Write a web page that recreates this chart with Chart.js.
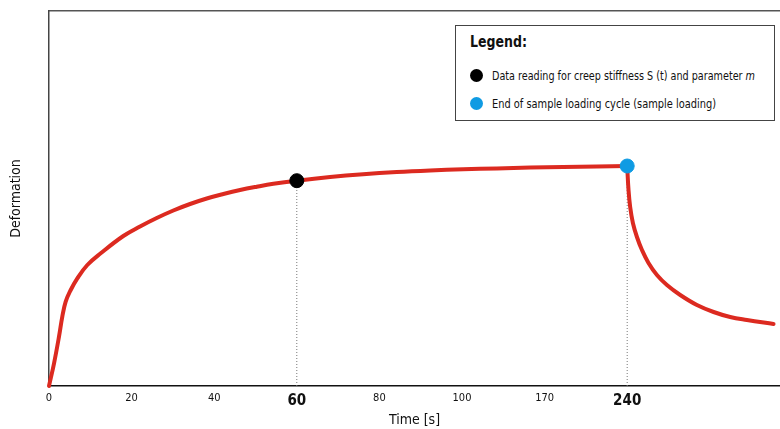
<!DOCTYPE html>
<html>
<head>
<meta charset="utf-8">
<script src="https://cdn.jsdelivr.net/npm/chart.js@4.4.1/dist/chart.umd.min.js"></script>
<style>
  html, body { margin: 0; padding: 0; background: #fff; }
  #wrap { position: relative; width: 780px; height: 429px; }
  #legendBox {
    position: absolute; left: 455px; top: 25px; width: 318px; height: 94px;
    border: 1px solid #444; background: #fff;
    font-family: 'DejaVu Sans Condensed', 'Liberation Sans', sans-serif;
    color: #111;
  }
  #legendBox .title { position: absolute; left: 14px; top: 7px; font-size: 15px; font-weight: bold; white-space: nowrap; transform-origin: left center; }
  #legendBox .item { position: absolute; left: 14px; font-size: 12px; white-space: nowrap; }
  #legendBox .dot { display: inline-block; width: 13px; height: 13px; border-radius: 50%; vertical-align: middle; margin-right: 9px; }
  #legendBox .txt { display: inline-block; vertical-align: middle; transform-origin: left center; }
</style>
</head>
<body>
<div id="wrap">
  <canvas id="c" width="780" height="429"></canvas>
  <div id="legendBox">
    <div class="title" id="lgTitle">Legend:</div>
    <div class="item" style="top:42px"><span class="dot" style="background:#000"></span><span class="txt" id="lg1">Data reading for creep stiffness S (t) and parameter <i>m</i></span></div>
    <div class="item" style="top:70px"><span class="dot" style="background:#0f9be3"></span><span class="txt" id="lg2">End of sample loading cycle (sample loading)</span></div>
  </div>
</div>
<script>
// Tick labels (evenly spaced positions 0..7 on the axis)
const tickLabels = ['0', '20', '40', '60', '80', '100', '170', '240'];
const boldTicks = ['60', '240'];

// Loading phase: position along axis (tick index units) and deformation (arbitrary units)
const loadX = [0, 0.061, 0.121, 0.161, 0.202, 0.263, 0.343, 0.464, 0.626, 0.90, 1.102, 1.304, 1.505, 1.708, 1.910,
               2.111, 2.313, 2.515, 2.716, 3.00, 3.403, 3.803, 4.211, 4.614, 5.014, 5.422, 5.825, 6.225, 6.633, 7.00];
const loadY = [0, 22.7, 49.3, 69.3, 84.3, 96, 107.7, 121, 132.7, 150, 159.5, 168, 175.5, 182, 187.5,
               192, 196, 199.3, 202.2, 205.3, 208.9, 211.7, 213.9, 215.5, 216.7, 217.6, 218.4, 219, 219.5, 220];

// Recovery phase after unloading
const recoverX = [7.00, 7.016, 7.036, 7.069, 7.118, 7.179, 7.258, 7.360, 7.481, 7.642, 7.844, 8.046, 8.247, 8.450, 8.772];
const recoverY = [220, 196, 179, 163, 149, 136, 123, 111, 101, 91, 81, 74, 69, 66, 62];

// Markers
const readingPoint = { x: 3, y: 205.3 };   // 60 s
const endLoadPoint = { x: 7, y: 220 };     // 240 s

const xMax = 8.85;
const yMax = 375;

const FONT = "'DejaVu Sans Condensed', 'Liberation Sans', sans-serif";
const RED = '#dc2a20';

const toPts = (xs, ys) => xs.map((x, i) => ({ x, y: ys[i] }));

new Chart(document.getElementById('c'), {
  type: 'line',
  data: {
    datasets: [
      {
        data: [readingPoint], type: 'scatter', pointRadius: 7, pointHoverRadius: 7,
        backgroundColor: '#000', borderColor: '#000', order: 0
      },
      {
        data: [endLoadPoint], type: 'scatter', pointRadius: 7, pointHoverRadius: 7,
        backgroundColor: '#0f9be3', borderColor: '#0f9be3', order: 0
      },
      {
        data: toPts(loadX, loadY), borderColor: RED, borderWidth: 4, pointRadius: 0,
        tension: 0.4, fill: false, order: 1, clip: false, borderCapStyle: 'round'
      },
      {
        data: toPts(recoverX, recoverY), borderColor: RED, borderWidth: 4, pointRadius: 0,
        tension: 0.4, fill: false, order: 1, clip: false, borderCapStyle: 'round'
      },
      {
        data: [{ x: readingPoint.x, y: 0 }, { x: readingPoint.x, y: readingPoint.y }],
        borderColor: '#777', borderWidth: 1, borderDash: [1, 2], pointRadius: 0, order: 2
      },
      {
        data: [{ x: endLoadPoint.x, y: 0 }, { x: endLoadPoint.x, y: endLoadPoint.y }],
        borderColor: '#777', borderWidth: 1, borderDash: [1, 2], pointRadius: 0, order: 2
      }
    ]
  },
  options: {
    responsive: false,
    animation: false,
    layout: { autoPadding: false, padding: { top: 11, right: 0, left: 0, bottom: 0 } },
    plugins: { legend: { display: false }, tooltip: { enabled: false } },
    scales: {
      x: {
        type: 'linear', min: 0, max: xMax, position: 'bottom',
        grid: { display: false, drawTicks: false },
        border: { display: true, color: '#111', width: 1.5 },
        afterBuildTicks: (s) => { s.ticks = tickLabels.map((_, i) => ({ value: i })); },
        afterFit: (s) => { s.height = 43; s.paddingLeft = 0; s.paddingRight = 0; },
        ticks: {
          autoSkip: false, maxRotation: 0, padding: 6, color: '#111',
          callback: (v) => tickLabels[v],
          font: (ctx) => {
            const lbl = ctx.tick ? tickLabels[ctx.tick.value] : '';
            return boldTicks.includes(lbl)
              ? { family: FONT, size: 15, weight: 'bold' }
              : { family: FONT, size: 11 };
          }
        },
        title: { display: true, text: 'Time [s]', color: '#111', font: { family: FONT, size: 14 }, padding: { top: 0, bottom: 0 } }
      },
      xTop: {
        type: 'linear', min: 0, max: xMax, position: 'top',
        grid: { display: false, drawTicks: false },
        border: { display: true, color: '#555', width: 1.5 },
        ticks: { display: false },
        afterFit: (s) => { s.height = 0; s.paddingLeft = 0; s.paddingRight = 0; }
      },
      y: {
        type: 'linear', min: 0, max: yMax,
        grid: { display: false, drawTicks: false },
        border: { display: true, color: '#444', width: 1.5 },
        ticks: { display: false },
        afterFit: (s) => { s.width = 49; },
        title: { display: true, text: 'Deformation', color: '#111', font: { family: FONT, size: 14 }, padding: { top: 8, bottom: 0 } }
      }
    }
  }
});

// Fit legend texts to the reference widths (condensed look)
function fitWidth(id, target) {
  const el = document.getElementById(id);
  const w = el.getBoundingClientRect().width;
  if (w > 0) el.style.transform = 'scaleX(' + (target / w) + ')';
}
fitWidth('lgTitle', 57);
fitWidth('lg1', 263);
fitWidth('lg2', 224);
</script>
</body>
</html>
